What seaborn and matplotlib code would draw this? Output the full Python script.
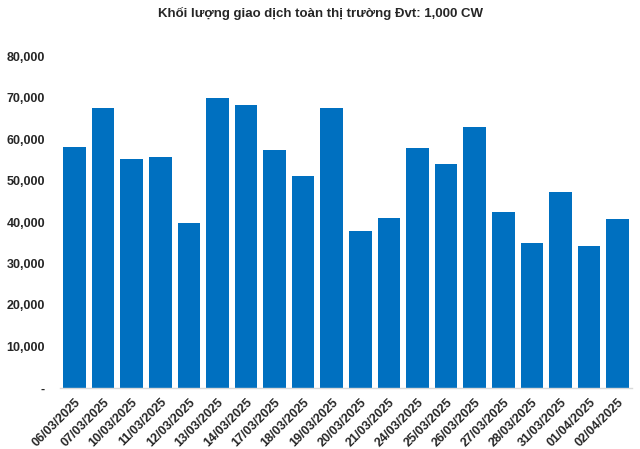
import matplotlib
matplotlib.use("Agg")
import matplotlib.pyplot as plt
import seaborn as sns
import pandas as pd

dates = ["06/03/2025", "07/03/2025", "10/03/2025", "11/03/2025", "12/03/2025",
         "13/03/2025", "14/03/2025", "17/03/2025", "18/03/2025", "19/03/2025",
         "20/03/2025", "21/03/2025", "24/03/2025", "25/03/2025", "26/03/2025",
         "27/03/2025", "28/03/2025", "31/03/2025", "01/04/2025", "02/04/2025"]
volume = [58000, 67400, 55300, 55600, 39700, 69800, 68100, 57300, 51000, 67600,
          37800, 40900, 57800, 54000, 63000, 42300, 34900, 47200, 34200, 40700]
y_ticks = [0, 10000, 20000, 30000, 40000, 50000, 60000, 70000, 80000]
y_labels = ["-", "10,000", "20,000", "30,000", "40,000", "50,000", "60,000", "70,000", "80,000"]

sns.set_style("white")
plt.rcParams['font.family'] = ['Liberation Sans', 'DejaVu Sans']

df = pd.DataFrame({"date": dates, "volume": volume})

fig = plt.figure(figsize=(6.4, 4.49), dpi=100)
ax = fig.add_axes([0.094, 0.136, 0.8935, 0.739])
sns.barplot(data=df, x="date", y="volume", color="#0070C0", width=0.79,
            saturation=1, linewidth=0, ax=ax)

ax.set_ylim(0, 80000)
ax.set_xlim(-0.5, len(dates) - 0.5)
ax.set_yticks(y_ticks)
ax.set_yticklabels(y_labels, fontsize=9, fontweight="bold")
ax.set_xticks(range(len(dates)))
ax.set_xticklabels(dates, rotation=45, ha="right", rotation_mode="anchor",
                   fontsize=9, fontweight="bold")
ax.set_xlabel("")
ax.set_ylabel("")
ax.tick_params(axis="y", length=0, pad=11)
ax.tick_params(axis="x", length=0, pad=6)
for s in ["top", "right", "left"]:
    ax.spines[s].set_visible(False)
ax.spines["bottom"].set_color("#d9d9d9")
ax.spines["bottom"].set_linewidth(1)

fig.suptitle("Khối lượng giao dịch toàn thị trường Đvt: 1,000 CW",
             fontsize=9.5, fontweight="bold", y=0.985)

fig.savefig("out.png", dpi=100)
